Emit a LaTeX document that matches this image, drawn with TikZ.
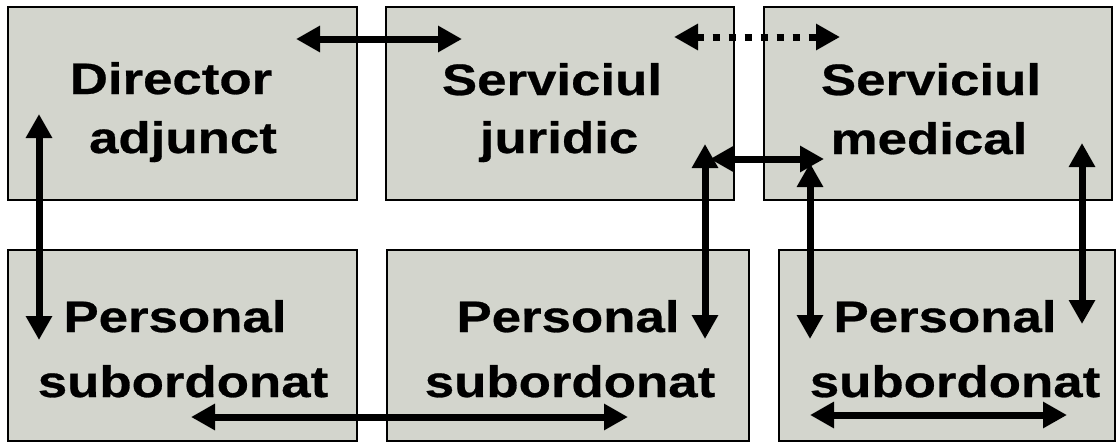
\documentclass[tikz,border=0pt]{standalone}
\usepackage{fontspec}
\newfontfamily\boxfont{Liberation Sans}[FakeStretch=1.2,FakeBold=0.6]
\usetikzlibrary{arrows.meta}
\definecolor{boxfill}{RGB}{211,213,205}
\begin{document}
\begin{tikzpicture}[x=1pt,y=-1pt,
  unit/.style={draw=black,line width=1.2pt,fill=boxfill,rectangle,inner sep=0pt},
  lbl/.style={anchor=base,inner sep=0pt,font=\boxfont\bfseries\fontsize{44}{52}\selectfont},
  link/.style={line width=7pt,{Triangle[length=24pt,width=25pt]}-{Triangle[length=24pt,width=25pt]}},
  dotlink/.style={link,dash pattern=on 7pt off 9pt}]
  % canvas
  \fill[white] (0,0) rectangle (1116,442);
  \useasboundingbox (0,0) rectangle (1116,442);

  % upper row
  \node[unit,minimum width=349pt,minimum height=193pt] (dir) at (182.5,103.5) {};
  \node[unit,minimum width=348pt,minimum height=193pt] (jur) at (560,103.5) {};
  \node[unit,minimum width=348pt,minimum height=193pt] (med) at (938,103.5) {};
  % lower row
  \node[unit,minimum width=349pt,minimum height=191pt] (pdir) at (182.5,345.5) {};
  \node[unit,minimum width=362pt,minimum height=191pt] (pjur) at (568,345.5) {};
  \node[unit,minimum width=336pt,minimum height=191pt] (pmed) at (947,345.5) {};

  % labels
  \node[lbl] (dir1) at (171,94) {Director};
  \node[lbl] (dir2) at (183,153) {adjunct};
  \node[lbl] (jur1) at (552,95) {Serviciul};
  \node[lbl] (jur2) at (559,153) {juridic};
  \node[lbl] (med1) at (931,95) {Serviciul};
  \node[lbl] (med2) at (929,154) {medical};
  \node[lbl] (pdir1) at (175,332) {Personal};
  \node[lbl] (pdir2) at (183,397) {subordonat};
  \node[lbl] (pjur1) at (568,332) {Personal};
  \node[lbl] (pjur2) at (570,397) {subordonat};
  \node[lbl] (pmed1) at (945,332) {Personal};
  \node[lbl] (pmed2) at (955,397) {subordonat};

  % connector ends
  \coordinate (a1s) at (296,39);  \coordinate (a1e) at (462,39);
  \coordinate (a2s) at (674,37);  \coordinate (a2e) at (840,37);
  \coordinate (a3s) at (39,114);  \coordinate (a3e) at (39,340);
  \coordinate (a4s) at (705,144); \coordinate (a4e) at (705,339);
  \coordinate (a5s) at (710,159); \coordinate (a5e) at (824,159);
  \coordinate (a6s) at (810,163); \coordinate (a6e) at (810,339);
  \coordinate (a7s) at (1082,143); \coordinate (a7e) at (1082,324);
  \coordinate (a8s) at (191,417); \coordinate (a8e) at (628,417);
  \coordinate (a9s) at (810,415); \coordinate (a9e) at (1067,415);

  % connectors
  \draw[link] (a1s) -- (a1e);
  \draw[dotlink] (a2s) -- (a2e);
  \draw[link] (a3s) -- (a3e);
  \draw[link] (a4s) -- (a4e);
  \draw[link] (a5s) -- (a5e);
  \draw[link] (a6s) -- (a6e);
  \draw[link] (a7s) -- (a7e);
  \draw[link] (a8s) -- (a8e);
  \draw[link] (a9s) -- (a9e);
\end{tikzpicture}
\end{document}
